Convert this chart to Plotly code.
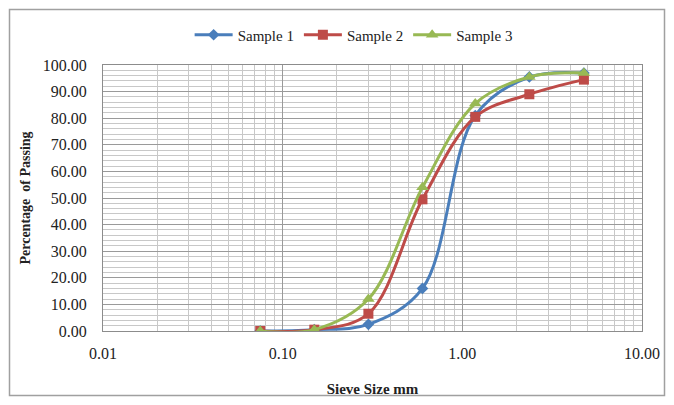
import plotly.graph_objects as go

sieve_sizes = [0.075, 0.15, 0.3, 0.6, 1.18, 2.36, 4.75]
sample1 = [0.0, 0.5, 2.5, 16.0, 81.0, 95.5, 97.0]
sample2 = [0.0, 0.5, 6.5, 49.5, 80.5, 89.0, 94.5]
sample3 = [0.0, 0.5, 12.0, 54.0, 85.5, 95.5, 97.0]
series_names = ["Sample 1", "Sample 2", "Sample 3"]
x_tick_vals = [0.01, 0.1, 1, 10]
x_tick_text = ["0.01", "0.10", "1.00", "10.00"]
y_tick_vals = [0, 10, 20, 30, 40, 50, 60, 70, 80, 90, 100]

colors = ["#4A7EBB", "#BE4B48", "#98B954"]
symbols = ["diamond", "square", "triangle-up"]
msizes = [9, 10, 11]

FONT = "Liberation Serif, Times New Roman, serif"
TXT = "#222222"

# page body has an 8px default margin, so the figure is sized to fit inside it
W, H = 658, 389
ML, MR, MT, MB = 95, 24, 57, 66
PW, PH = W - ML - MR, H - MT - MB

fig = go.Figure()
for name, ys, c, s, ms in zip(series_names, [sample1, sample2, sample3], colors, symbols, msizes):
    fig.add_trace(go.Scatter(
        x=sieve_sizes, y=ys, name=name, mode="lines+markers",
        line=dict(color=c, width=3, shape="spline", smoothing=1.0),
        marker=dict(symbol=s, size=ms, color=c),
    ))

minor_x = []
for dec in [0.01, 0.1, 1]:
    for k in range(2, 10):
        minor_x.append(dec * k)
minor_y = [v for v in range(0, 101, 2) if v % 10 != 0]

fig.update_layout(
    width=W, height=H,
    margin=dict(l=ML, r=MR, t=MT, b=MB, autoexpand=False),
    paper_bgcolor="white", plot_bgcolor="white",
    font=dict(family=FONT, size=15, color=TXT),
    legend=dict(orientation="h", x=0.465, xanchor="center", y=1 + 30 / PH, yanchor="middle",
                font=dict(family=FONT, size=15, color=TXT),
                itemwidth=38, traceorder="normal"),
    showlegend=True,
)

fig.update_xaxes(
    type="log", range=[-2, 1],
    tickvals=x_tick_vals, ticktext=x_tick_text,
    showgrid=True, gridcolor="#9a9a9a", gridwidth=1,
    showline=True, linecolor="#8c8c8c", linewidth=1, mirror=True,
    ticks="", ticklabelstandoff=8,
    tickfont=dict(family=FONT, size=16, color=TXT),
    minor=dict(tickvals=minor_x, showgrid=True, gridcolor="#c8c8c8", gridwidth=1),
    title=dict(text="<b>Sieve Size mm</b>", font=dict(family=FONT, size=15, color=TXT), standoff=22),
    zeroline=False,
)
fig.update_yaxes(
    range=[0, 100], tickvals=y_tick_vals, tickformat=".2f",
    showgrid=True, gridcolor="#9a9a9a", gridwidth=1,
    showline=True, linecolor="#8c8c8c", linewidth=1, mirror=True,
    ticks="", ticklabelstandoff=12,
    tickfont=dict(family=FONT, size=16, color=TXT),
    minor=dict(tickvals=minor_y, showgrid=True, gridcolor="#c8c8c8", gridwidth=1),
    title=dict(text="<b>Percentage  of Passing</b>", font=dict(family=FONT, size=14, color=TXT), standoff=8),
    zeroline=False,
)

fig.add_shape(type="rect", xref="paper", yref="paper",
              x0=-(ML - 1.5) / PW, x1=1 + (MR - 1.5) / PW,
              y0=-(MB - 1.5) / PH, y1=1 + (MT - 1.5) / PH,
              line=dict(color="#a0a0a0", width=1.5), fillcolor="rgba(0,0,0,0)", layer="below")

fig.write_html("out.html")
